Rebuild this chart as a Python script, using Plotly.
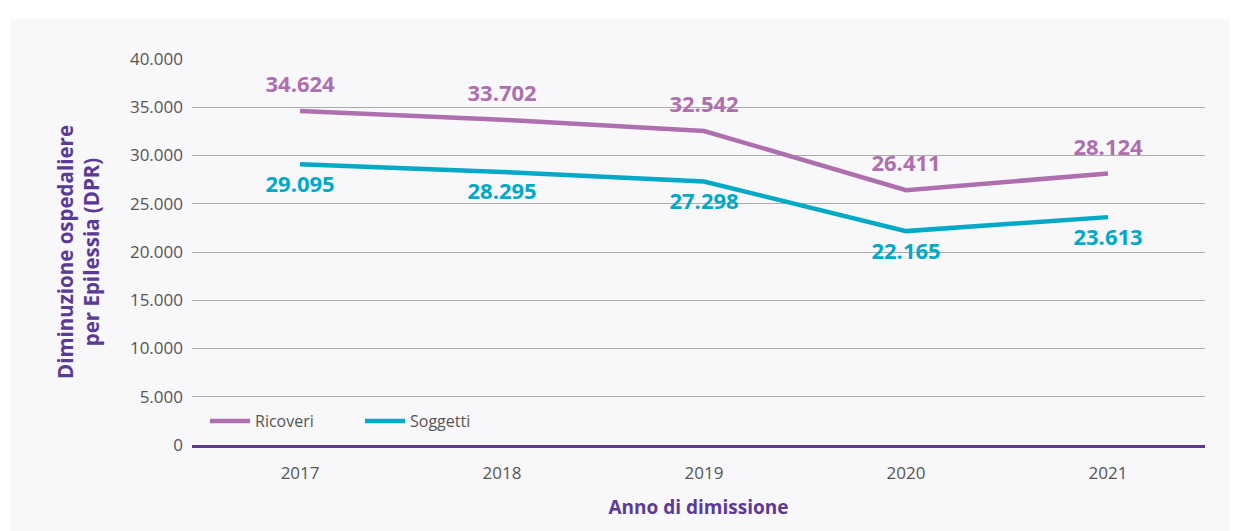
import plotly.graph_objects as go

years = ["2017", "2018", "2019", "2020", "2021"]
ricoveri = [34624, 33702, 32542, 26411, 28124]
soggetti = [29095, 28295, 27298, 22165, 23613]
y_ticks = [0, 5000, 10000, 15000, 20000, 25000, 30000, 35000, 40000]

C_RIC = "#AE6FAE"
C_SOG = "#00A9C6"
PURPLE = "#5B3A96"
GREY = "#555555"
FONT = "Open Sans"
CLEAR = "rgba(0,0,0,0)"


def fmt(v):
    return f"{v:,}".replace(",", ".")


fig = go.Figure()
fig.add_trace(go.Scatter(
    x=years, y=ricoveri, mode="lines+markers+text", name="Ricoveri",
    line=dict(color=C_RIC, width=4.5),
    marker=dict(size=20, color=CLEAR, line=dict(width=0)),
    text=[fmt(v) for v in ricoveri], textposition="top center",
    textfont=dict(family=FONT, size=22, color=C_RIC, weight="bold"),
    hoverinfo="skip"))
fig.add_trace(go.Scatter(
    x=years, y=soggetti, mode="lines+markers+text", name="Soggetti",
    line=dict(color=C_SOG, width=4.5),
    marker=dict(size=16, color=CLEAR, line=dict(width=0)),
    text=[fmt(v) for v in soggetti], textposition="bottom center",
    textfont=dict(family=FONT, size=22, color=C_SOG, weight="bold"),
    hoverinfo="skip"))

# page body has an 8px margin: work in figure coordinates
W, H = 1229, 523
L, T = 184, 51
pw, ph = 1013, 386
R, B = W - L - pw, H - T - ph


def px(x):
    return (x - L) / pw


def py(y):
    return (T + ph - y) / ph


fig.update_layout(
    width=W, height=H,
    margin=dict(l=L, r=R, t=T, b=B),
    paper_bgcolor="white",
    plot_bgcolor="rgba(0,0,0,0)",
    separators=",.",
    font=dict(family=FONT, size=15, color=GREY),
    shapes=[dict(type="rect", xref="paper", yref="paper", layer="below",
                 x0=px(2), x1=px(W), y0=py(H), y1=py(11),
                 fillcolor="#F8F7FA", line=dict(width=0))],
    legend=dict(orientation="h", x=px(197), xanchor="left", y=py(413), yanchor="middle",
                bgcolor="rgba(0,0,0,0)", font=dict(family=FONT, size=16, color=GREY),
                itemwidth=40, entrywidth=100, traceorder="normal"),
    showlegend=True,
)

fig.update_xaxes(
    type="category", range=[-0.535, 4.48], showgrid=False, ticks="",
    showline=True, linecolor=PURPLE, linewidth=2.5,
    tickfont=dict(family=FONT, size=17, color=GREY),
    ticklabelstandoff=11,
    title=dict(text="Anno di dimissione", standoff=18,
               font=dict(family=FONT, size=19, color=PURPLE, weight="bold")),
)
fig.update_yaxes(
    range=[0, 40000], tickvals=y_ticks, tickformat=",",
    showgrid=True, gridcolor="#ABABAB", gridwidth=1, zeroline=False,
    tickfont=dict(family=FONT, size=17, color=GREY),
    ticklabelstandoff=8,
    title=dict(text="Diminuzione ospedaliere<br>per Epilessia (DPR)", standoff=24,
               font=dict(family=FONT, size=20.5, color=PURPLE, weight="bold")),
)

fig.write_html("out.html")
